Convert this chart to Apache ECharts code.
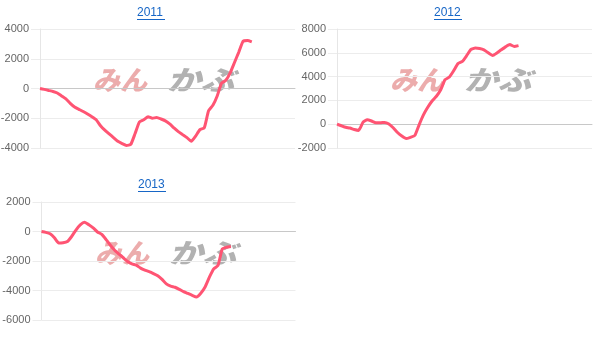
<!DOCTYPE html>
<html>
<head>
<meta charset="utf-8">
<script src="https://cdn.jsdelivr.net/npm/echarts@6/dist/echarts.min.js"></script>
<style>html,body{margin:0;padding:0;background:#fff}#c{width:601px;height:345px}</style>
</head>
<body>
<div id="c"></div>
<script>
var titles = ['2011', '2012', '2013'];
var categoryCount = 60;
var values2011 = [0, -60, -130, -200, -300, -500, -700, -1000, -1250, -1400, -1550, -1720, -1900, -2100, -2500, -2800, -3050, -3300, -3550, -3700, -3830, -3760, -3030, -2250, -2100, -1900, -2000, -1950, -2050, -2180, -2380, -2650, -2900, -3100, -3300, -3550, -3200, -2760, -2650, -1500, -1130, -500, 350, 550, 1050, 1750, 2450, 3180, 3220, 3130];
var values2012 = [0, -130, -260, -320, -450, -520, 150, 380, 270, 120, 120, 150, 20, -300, -700, -1000, -1210, -1100, -950, -50, 780, 1420, 1950, 2350, 2900, 3740, 3960, 4500, 5100, 5280, 5760, 6280, 6400, 6360, 6250, 6000, 5780, 5990, 6250, 6500, 6690, 6530, 6600];
var values2013 = [0, -60, -150, -420, -780, -760, -680, -340, 100, 450, 620, 460, 250, -30, -200, -550, -930, -1270, -1530, -1780, -2030, -2200, -2280, -2480, -2620, -2720, -2850, -3000, -3250, -3550, -3700, -3780, -3920, -4080, -4200, -4330, -4440, -4180, -3760, -3100, -2540, -2300, -1180, -1070, -1020];
var yMin = [-4000, -2000, -6000];
var yMax = [4000, 8000, 2000];
var yStep = 2000;

var categories = [];
for (var i = 0; i < categoryCount; i++) categories.push(String(i + 1));
var allValues = [values2011, values2012, values2013];

var grids = [
  {left: 40, top: 29, width: 255, height: 119, outerBoundsMode: 'none', containLabel: false},
  {left: 337, top: 29, width: 255, height: 119, outerBoundsMode: 'none', containLabel: false},
  {left: 41.5, top: 202, width: 254, height: 118, outerBoundsMode: 'none', containLabel: false}
];
var titlePos = [[151, 14], [448, 14], [152, 186]];
var logoPos = [[93, 80], [390, 80], [95, 253]];

var chart = echarts.init(document.getElementById('c'));
var xAxes = [], yAxes = [], series = [], graphics = [];
for (var k = 0; k < 3; k++) {
  xAxes.push({
    gridIndex: k, type: 'category', data: categories, boundaryGap: false,
    axisLine: {show: true, onZero: true, lineStyle: {color: '#c8c8c8', width: 1}},
    axisTick: {show: false}, axisLabel: {show: false}, splitLine: {show: false}
  });
  yAxes.push({
    gridIndex: k, type: 'value', min: yMin[k], max: yMax[k], interval: yStep,
    axisLine: {show: true, lineStyle: {color: '#e6e6e6'}},
    axisTick: {show: true, length: 9, lineStyle: {color: '#ececec'}},
    axisLabel: {color: '#666', fontSize: 11, margin: 11, fontFamily: 'Liberation Sans, Arial, sans-serif',
      formatter: function (v) { return String(v); }},
    splitLine: {show: true, lineStyle: {color: '#ececec'}}
  });
  series.push({
    type: 'line', xAxisIndex: k, yAxisIndex: k, data: allValues[k],
    showSymbol: false, smooth: 0.15, z: 5,
    lineStyle: {color: '#ff5473', width: 3}
  });
  graphics.push({
    type: 'text', left: titlePos[k][0] - 14, top: titlePos[k][1] - 7,
    style: {text: titles[k], fill: '#1766c6', font: '12px "Liberation Sans", Arial, sans-serif'}
  });
  graphics.push({
    type: 'rect', shape: {x: titlePos[k][0] - 14, y: titlePos[k][1] + 5, width: 28, height: 1},
    style: {fill: '#1766c6'}
  });
  graphics.push({
    type: 'text', x: logoPos[k][0], y: logoPos[k][1], z: 0,
    style: {text: 'みん', fill: 'rgb(236,172,172)', font: 'italic 900 27px "Noto Sans CJK JP"', textVerticalAlign: 'middle'}
  });
  graphics.push({
    type: 'text', x: logoPos[k][0] + 74, y: logoPos[k][1], scaleX: 1.25, z: 0,
    style: {text: 'かぶ', fill: 'rgb(178,178,178)', font: 'italic 900 27px "Noto Sans CJK JP"', textVerticalAlign: 'middle'}
  });
}

chart.setOption({
  animation: false,
  grid: grids,
  xAxis: xAxes,
  yAxis: yAxes,
  series: series,
  graphic: graphics
});
</script>
</body>
</html>
